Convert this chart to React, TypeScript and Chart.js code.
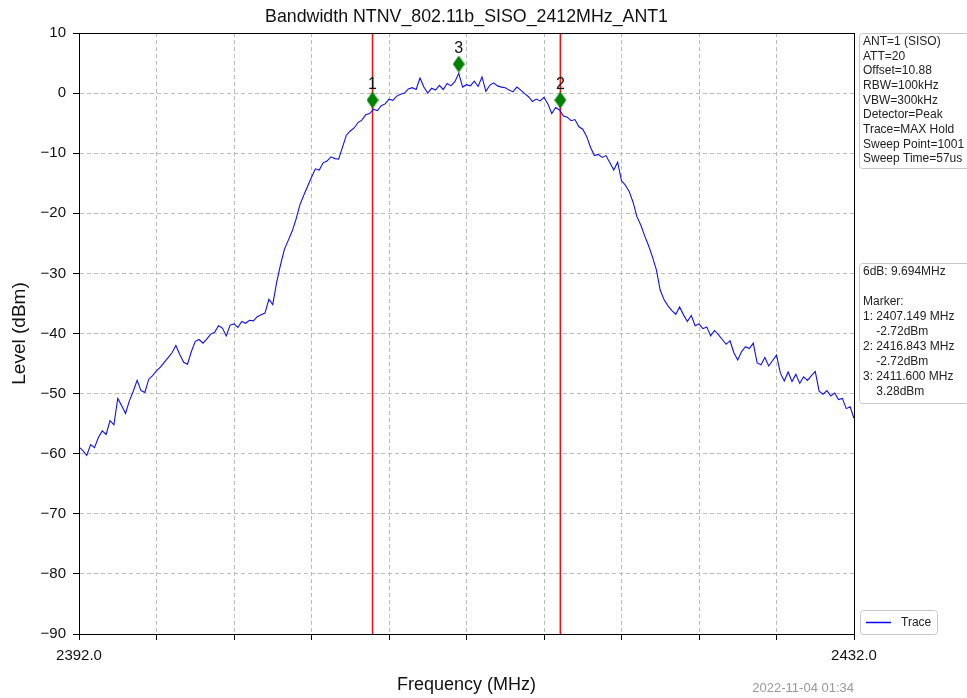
import React, { useEffect, useRef } from 'react';
import { Chart, registerables } from 'chart.js';

Chart.register(...registerables);

const TITLE = 'Bandwidth NTNV_802.11b_SISO_2412MHz_ANT1';
const X_TITLE = 'Frequency (MHz)';
const Y_TITLE = 'Level (dBm)';
const TIMESTAMP = '2022-11-04 01:34';

const FREQ_START = 2392;
const FREQ_STEP = 0.2;
const LEVELS: number[] = [
  -58.9, -59.5, -60.3, -58.5, -59.0,
  -57.3, -56.2, -56.8, -54.5, -55.2,
  -50.8, -52.0, -53.3, -51.2, -49.6,
  -47.8, -49.5, -49.8, -47.6, -47.0,
  -46.2, -45.6, -44.8, -44.0, -43.2,
  -42.0, -43.5, -44.8, -45.1, -43.0,
  -41.3, -41.0, -41.6, -40.9, -40.1,
  -39.8, -38.7, -39.1, -40.4, -38.6,
  -38.4, -39.0, -38.0, -38.3, -37.8,
  -37.9, -37.2, -36.9, -36.6, -34.3,
  -35.2, -31.5, -28.6, -26.0, -24.5,
  -23.0, -21.0, -18.6, -17.0, -15.5,
  -14.0, -12.6, -12.8, -11.6, -11.3,
  -10.6, -10.9, -11.0, -9.0, -7.0,
  -6.3, -5.8, -4.9, -4.5, -3.6,
  -3.4, -2.7, -2.9, -2.1, -1.8,
  -1.0, -1.2, -0.5, -0.2, 0.0,
  0.7, 0.9, 0.6, 2.5, 1.0,
  0.0, 0.8, 0.5, 1.3, 0.6,
  1.6, 1.2, 1.9, 3.3, 1.0,
  1.4, 1.2, 2.0, 1.1, 2.7,
  0.3, 1.3, 1.7, 1.2, 1.0,
  0.9, 0.5, 0.2, 1.0, 0.5,
  -0.1, -0.6, -1.4, -1.0, -1.3,
  -0.7, -1.8, -3.4, -2.4, -2.8,
  -3.8, -4.0, -4.6, -4.4, -5.6,
  -6.0, -7.2, -9.0, -10.4, -10.2,
  -10.7, -10.4, -11.6, -12.8, -11.5,
  -14.6, -15.3, -16.4, -18.2, -20.6,
  -22.0, -23.8, -25.4, -27.3, -29.4,
  -32.8, -34.4, -35.4, -36.2, -36.8,
  -35.6, -36.9, -38.0, -37.0, -38.7,
  -38.4, -39.2, -38.9, -40.4, -39.5,
  -40.2, -41.0, -41.8, -41.2, -43.2,
  -44.4, -43.0, -42.2, -42.5, -41.6,
  -44.9, -45.2, -44.0, -45.4, -44.5,
  -43.6, -46.6, -47.9, -46.4, -48.0,
  -46.8, -48.3, -47.2, -47.8, -47.0,
  -46.3, -49.6, -50.1, -49.5, -50.4,
  -49.9, -51.0, -50.8, -52.5, -52.2,
  -54.1,
];

const X_MIN = 2392;
const X_MAX = 2432;
const X_STEP = 4;
const X_TICK_LABELS = ['2392.0', '2432.0'];
const Y_MIN = -90;
const Y_MAX = 10;
const Y_STEP = 10;

const EDGE_FREQS = [2407.149, 2416.843];
const MARKER_NAMES = ['1', '2', '3'];
const MARKER_FREQS = [2407.149, 2416.843, 2411.6];
const MARKER_LEVELS = [-2.72, -2.72, 3.28];
const MARKER_LIFT = 1.56;

const INFO_LINES = [
  'ANT=1 (SISO)',
  'ATT=20',
  'Offset=10.88',
  'RBW=100kHz',
  'VBW=300kHz',
  'Detector=Peak',
  'Trace=MAX Hold',
  'Sweep Point=1001',
  'Sweep Time=57us',
];
const MARKER_INFO_LINES = [
  '6dB: 9.694MHz',
  '',
  'Marker:',
  '1: 2407.149 MHz',
  '    -2.72dBm',
  '2: 2416.843 MHz',
  '    -2.72dBm',
  '3: 2411.600 MHz',
  '    3.28dBm',
];
const LEGEND_LABEL = 'Trace';

const FONT = '"Liberation Sans", Arial, Helvetica, sans-serif';

function roundRect(ctx: CanvasRenderingContext2D, x: number, y: number, w: number, h: number, r: number) {
  ctx.beginPath();
  ctx.moveTo(x + r, y);
  ctx.lineTo(x + w - r, y);
  ctx.quadraticCurveTo(x + w, y, x + w, y + r);
  ctx.lineTo(x + w, y + h - r);
  ctx.quadraticCurveTo(x + w, y + h, x + w - r, y + h);
  ctx.lineTo(x + r, y + h);
  ctx.quadraticCurveTo(x, y + h, x, y + h - r);
  ctx.lineTo(x, y + r);
  ctx.quadraticCurveTo(x, y, x + r, y);
  ctx.closePath();
}

export default function App() {
  const ref = useRef<HTMLCanvasElement | null>(null);

  useEffect(() => {
    if (!ref.current) return;

    const diamond = document.createElement('canvas');
    diamond.width = 12;
    diamond.height = 17;
    const dctx = diamond.getContext('2d')!;
    dctx.fillStyle = '#008000';
    dctx.beginPath();
    dctx.moveTo(6, 0);
    dctx.lineTo(12, 8.5);
    dctx.lineTo(6, 17);
    dctx.lineTo(0, 8.5);
    dctx.closePath();
    dctx.fill();

    const trace = LEVELS.map((v, i) => ({ x: FREQ_START + i * FREQ_STEP, y: v }));
    const markers = MARKER_FREQS.map((f, i) => ({ x: f, y: MARKER_LEVELS[i] + MARKER_LIFT }));

    const edgeSets = EDGE_FREQS.map((f) => ({
      type: 'line' as const,
      data: [{ x: f, y: Y_MIN }, { x: f, y: Y_MAX }],
      borderColor: '#ee1111',
      borderWidth: 1.5,
      pointRadius: 0,
      fill: false,
      order: 2,
    }));

    const decor = {
      id: 'decor',
      afterDatasetsDraw(chart: any) {
        const ctx = chart.ctx as CanvasRenderingContext2D;
        const meta = chart.getDatasetMeta(3);
        ctx.save();
        ctx.fillStyle = '#111';
        ctx.font = `16px ${FONT}`;
        ctx.textAlign = 'center';
        ctx.textBaseline = 'middle';
        meta.data.forEach((el: any, i: number) => {
          ctx.fillText(MARKER_NAMES[i], el.x, el.y - 15);
        });
        ctx.restore();
      },
      afterDraw(chart: any) {
        const ctx = chart.ctx as CanvasRenderingContext2D;
        const a = chart.chartArea;
        ctx.save();
        // frame
        ctx.strokeStyle = '#000';
        ctx.lineWidth = 1;
        ctx.strokeRect(Math.round(a.left) + 0.5, Math.round(a.top) + 0.5, Math.round(a.right - a.left), Math.round(a.bottom - a.top));

        // title
        ctx.fillStyle = '#111';
        ctx.textAlign = 'center';
        ctx.textBaseline = 'middle';
        ctx.font = `17.8px ${FONT}`;
        ctx.fillText(TITLE, (a.left + a.right) / 2, 17);

        // axis titles
        ctx.font = `18px ${FONT}`;
        ctx.fillText(X_TITLE, (a.left + a.right) / 2, 685);
        ctx.save();
        ctx.translate(20, (a.top + a.bottom) / 2);
        ctx.rotate(-Math.PI / 2);
        ctx.font = `19px ${FONT}`;
        ctx.fillText(Y_TITLE, 0, 0);
        ctx.restore();

        // timestamp
        ctx.fillStyle = '#999';
        ctx.font = `13px ${FONT}`;
        ctx.textAlign = 'right';
        ctx.fillText(TIMESTAMP, a.right, 688);

        // info boxes
        const bx = a.right + 5;
        ctx.strokeStyle = '#c8c8c8';
        ctx.lineWidth = 1;
        ctx.fillStyle = '#fff';
        roundRect(ctx, bx + 0.5, 33.5, 130, 135, 3);
        ctx.fill();
        ctx.stroke();
        roundRect(ctx, bx + 0.5, 263.5, 130, 140, 3);
        ctx.fill();
        ctx.stroke();

        ctx.fillStyle = '#222';
        ctx.font = `12px ${FONT}`;
        ctx.textAlign = 'left';
        INFO_LINES.forEach((t, i) => ctx.fillText(t, bx + 4, 41.5 + i * 14.7));
        MARKER_INFO_LINES.forEach((t, i) => ctx.fillText(t, bx + 4, 272 + i * 15));

        // legend
        ctx.strokeStyle = '#c8c8c8';
        ctx.fillStyle = '#fff';
        roundRect(ctx, bx + 1.5, 610.5, 77, 24, 3);
        ctx.fill();
        ctx.stroke();
        ctx.strokeStyle = '#0000ff';
        ctx.lineWidth = 1.5;
        ctx.beginPath();
        ctx.moveTo(bx + 7, 622.5);
        ctx.lineTo(bx + 32, 622.5);
        ctx.stroke();
        ctx.fillStyle = '#222';
        ctx.font = `12px ${FONT}`;
        ctx.fillText(LEGEND_LABEL, bx + 42, 623);
        ctx.restore();
      },
    };

    const chart = new Chart(ref.current, {
      type: 'line',
      data: {
        datasets: [
          {
            data: trace,
            borderColor: '#1010ee',
            borderWidth: 1.1,
            pointRadius: 0,
            fill: false,
            tension: 0,
            order: 1,
          },
          ...edgeSets,
          {
            type: 'scatter' as const,
            data: markers,
            pointStyle: diamond as any,
            pointRadius: 6,
            showLine: false,
            order: 0,
          },
        ] as any,
      },
      options: {
        animation: false,
        responsive: false,
        events: [],
        layout: { padding: { top: 33, right: 113, left: 0, bottom: 0 } },
        plugins: {
          legend: { display: false },
          title: { display: false },
          tooltip: { enabled: false },
        },
        scales: {
          x: {
            type: 'linear',
            min: X_MIN,
            max: X_MAX,
            afterFit: (s: any) => { s.height = 64; },
            afterBuildTicks: (s: any) => {
              const t = [];
              for (let v = X_MIN; v <= X_MAX + 1e-9; v += X_STEP) t.push({ value: v });
              s.ticks = t;
            },
            ticks: {
              autoSkip: false,
              maxRotation: 0,
              padding: 7,
              color: '#111',
              font: { family: FONT, size: 15 },
              callback: (v: any) => (v === X_MIN ? X_TICK_LABELS[0] : v === X_MAX ? X_TICK_LABELS[1] : ''),
            },
            grid: { color: '#b4b4b4', lineWidth: 0.9, tickLength: 6, tickColor: '#000', tickWidth: 1 },
            border: { color: '#000', width: 1, dash: [4, 3] },
          },
          y: {
            type: 'linear',
            min: Y_MIN,
            max: Y_MAX,
            afterFit: (s: any) => { s.width = 79; },
            ticks: {
              stepSize: Y_STEP,
              padding: 7,
              color: '#111',
              font: { family: FONT, size: 15 },
              callback: (v: any) => String(v).replace('-', '\u2212'),
            },
            grid: { color: '#b4b4b4', lineWidth: 0.9, tickLength: 6, tickColor: '#000', tickWidth: 1 },
            border: { color: '#000', width: 1, dash: [4, 3] },
          },
        },
      },
      plugins: [decor],
    });

    return () => chart.destroy();
  }, []);

  return (
    <div style={{ position: 'absolute', left: 0, top: 0, width: 967, height: 698, background: '#fff', overflow: 'hidden' }}>
      <canvas ref={ref} width={967} height={698} style={{ display: 'block' }} />
    </div>
  );
}
